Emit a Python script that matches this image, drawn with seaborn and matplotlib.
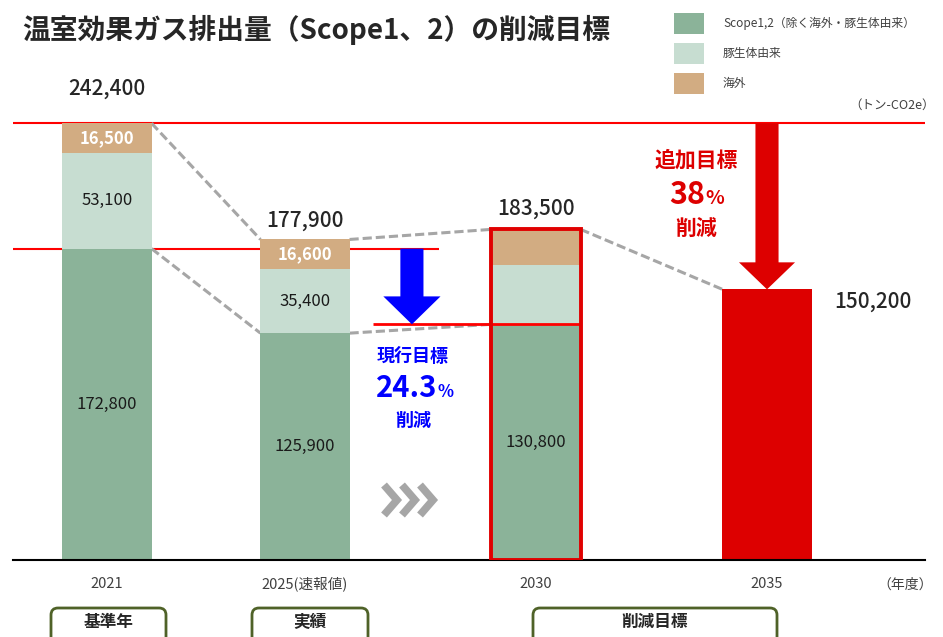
import matplotlib
matplotlib.use("Agg")
import matplotlib.pyplot as plt
import matplotlib.transforms as mtransforms
from matplotlib.patches import FancyArrow, Rectangle, FancyBboxPatch
from matplotlib.lines import Line2D
import pandas as pd
import seaborn as sns

# =========================
# DATA
# =========================
years = ["2021", "2025(速報値)", "2030", "2035"]
scope12 = [172800, 125900, 130800]      # Scope1,2（除く海外・豚生体由来）
pig = [53100, 35400, 32700]              # 豚生体由来
overseas = [16500, 16600, 20000]         # 海外
target_2035 = 150200
current_cut = "24.3"
extra_cut = "38"
box_labels = ["基準年", "実績", "削減目標"]
legend_labels = ["Scope1,2（除く海外・豚生体由来）", "豚生体由来", "海外"]

# layout (bar centres on a native x scale)
x_pos = [0, 0.9, 1.95, 3.0]

GREEN = "#8BB399"
LIGHT = "#C7DDD1"
TAN = "#D2AC82"
RED = "#DD0000"
RED_LINE = "#FF0000"
BLUE = "#0000FF"
GRAY = "#A6A6A6"
OLIVE = "#4F6228"

# =========================
# BUILD TABLE
# =========================
tot = [s + p + o for s, p, o in zip(scope12, pig, overseas)]
mid = [s + p for s, p in zip(scope12, pig)]

rows = []
for i in range(3):
    rows.append((x_pos[i], "海外", tot[i]))
    rows.append((x_pos[i], "豚生体由来", mid[i]))
    rows.append((x_pos[i], "Scope1,2", scope12[i]))
rows.append((x_pos[3], "2035", target_2035))
df = pd.DataFrame(rows, columns=["x", "layer", "top"])

palette = {"海外": TAN, "豚生体由来": LIGHT, "Scope1,2": GREEN, "2035": RED}

# =========================
# PLOT
# =========================
sns.set_style("white")
plt.rcParams['font.family'] = ['Noto Sans CJK JP', 'DejaVu Sans']

W, H = 943, 637
fig = plt.figure(figsize=(W / 100, H / 100), dpi=100)
ax = fig.add_axes([13 / W, 77 / H, 912 / W, 500 / H])
# image pixel coords (y from top)
PX = mtransforms.Affine2D().scale(1 / W, -1 / H).translate(0, 1) + fig.transFigure

sns.barplot(data=df, x="x", y="top", hue="layer",
            hue_order=["海外", "豚生体由来", "Scope1,2", "2035"],
            palette=palette, native_scale=True, dodge=False, width=0.45,
            errorbar=None, legend=False, saturation=1, linewidth=0,
            zorder=2, ax=ax)

ax.set_xlim(-94 / 220, 818 / 220)
ax.set_ylim(0, 277500)
bw = 0.45 * 0.9
h = bw / 2

# reference lines
ax.axhline(tot[0], color=RED_LINE, lw=1.5, zorder=1)
ax.hlines(scope12[0], -0.43, 1.51, color=RED_LINE, lw=1.5, zorder=1)
ax.hlines(scope12[2], 1.21, x_pos[2] + h, color=RED_LINE, lw=2, zorder=3)

# 2030 outline
ax.add_patch(Rectangle((x_pos[2] - h, 0), bw, tot[2], fill=False,
                       edgecolor="#E00000", lw=2.8, zorder=3))

# dashed connectors
dash = dict(color=GRAY, lw=2.2, linestyle=(0, (3, 1.3)), zorder=1.5)
ax.plot([x_pos[0] + h, x_pos[1] - h], [tot[0], tot[1]], **dash)
ax.plot([x_pos[0] + h, x_pos[1] - h], [scope12[0], scope12[1]], **dash)
ax.plot([x_pos[1] + h, x_pos[2] - h], [tot[1], tot[2]], **dash)
ax.plot([x_pos[1] + h, x_pos[2] - h], [scope12[1], scope12[2]], **dash)
ax.plot([x_pos[2] + h, x_pos[3] - h], [tot[2], target_2035], **dash)

# arrows
ax.add_patch(FancyArrow(1.386, scope12[0], 0, scope12[2] - scope12[0],
                        width=0.105, head_width=0.26, head_length=15500,
                        length_includes_head=True, color=BLUE, lw=0, zorder=4))
ax.add_patch(FancyArrow(x_pos[3], tot[0], 0, target_2035 - tot[0],
                        width=0.105, head_width=0.255, head_length=15000,
                        length_includes_head=True, color=RED, lw=0, zorder=4))

# segment labels
for i in range(3):
    ax.text(x_pos[i], scope12[i] / 2, f"{scope12[i]:,}", ha="center", va="center",
            fontsize=12, color="#1A1A1A", zorder=5)
    if i < 2:
        ax.text(x_pos[i], scope12[i] + pig[i] / 2, f"{pig[i]:,}", ha="center",
                va="center", fontsize=12, color="#1A1A1A", zorder=5)
        ax.text(x_pos[i], mid[i] + overseas[i] / 2, f"{overseas[i]:,}", ha="center",
                va="center", fontsize=12, color="white", fontweight="bold", zorder=5)

# totals
offs = [24.5, 13.5, 14.5]
for i in range(3):
    ax.annotate(f"{tot[i]:,}", (x_pos[i], tot[i]), xytext=(0, offs[i]),
                textcoords="offset points", ha="center", va="center",
                fontsize=15, fontweight="medium")
ax.annotate(f"{target_2035:,}", (x_pos[3] + h, target_2035), xytext=(16.5, -8.6),
            textcoords="offset points", ha="left", va="center",
            fontsize=15, fontweight="medium")

# axes style
ax.set_xticks(x_pos, years)
ax.tick_params(axis="x", length=0, pad=12, labelsize=10.5, labelcolor="#404040")
ax.set_yticks([])
ax.set_xlabel("")
ax.set_ylabel("")
for s in ["top", "left", "right"]:
    ax.spines[s].set_visible(False)
ax.spines["bottom"].set_color("black")
ax.spines["bottom"].set_linewidth(1.5)

# =========================
# TEXT / DECORATION
# =========================
fig.text(22, 30, "温室効果ガス排出量（Scope1、2）の削減目標", transform=PX,
         ha="left", va="center", fontsize=20, fontweight="bold")
fig.text(892, 105, "（トン-CO2e）", transform=PX, ha="center", va="center",
         fontsize=9, color="#404040")
fig.text(905, 585, "（年度）", transform=PX, ha="center", va="center",
         fontsize=10, color="#404040")

# legend
for j, (lab, col) in enumerate(zip(legend_labels, [GREEN, LIGHT, TAN])):
    fig.add_artist(Rectangle((674, 13 + 30 * j), 30, 21, transform=PX,
                             facecolor=col, edgecolor="none"))
    fig.text(723, 23.5 + 30 * j, lab, transform=PX, ha="left", va="center",
             fontsize=8.5, color="#404040")

# current target (blue)
fig.text(413, 357, "現行目標", transform=PX, ha="center", va="center",
         fontsize=13, fontweight="bold", color=BLUE)
fig.text(437, 397, current_cut, transform=PX, ha="right", va="baseline",
         fontsize=21, fontweight="bold", color=BLUE)
fig.text(437, 397, "%", transform=PX, ha="left", va="baseline",
         fontsize=12, fontweight="bold", color=BLUE)
fig.text(413, 420, "削減", transform=PX, ha="center", va="center",
         fontsize=13, fontweight="bold", color=BLUE)

# additional target (red)
fig.text(696, 160, "追加目標", transform=PX, ha="center", va="center",
         fontsize=15, fontweight="bold", color=RED)
fig.text(705, 204, extra_cut, transform=PX, ha="right", va="baseline",
         fontsize=22, fontweight="bold", color=RED)
fig.text(705, 204, "%", transform=PX, ha="left", va="baseline",
         fontsize=14, fontweight="bold", color=RED)
fig.text(696, 228, "削減", transform=PX, ha="center", va="center",
         fontsize=15, fontweight="bold", color=RED)

# chevrons
for x0 in [384, 402, 420]:
    fig.add_artist(Line2D([x0, x0 + 13, x0], [485, 500, 515], transform=PX,
                          color=GRAY, lw=5.5, solid_joinstyle="miter",
                          solid_capstyle="butt"))

# bottom boxes
for lab, (bx, bwid) in zip(box_labels, [(51, 115), (252, 116), (533, 244)]):
    fig.add_artist(FancyBboxPatch((bx, 608), bwid, 50, transform=PX,
                                  boxstyle="round,pad=0,rounding_size=7",
                                  facecolor="white", edgecolor=OLIVE, lw=2))
    fig.text(bx + bwid / 2, 622, lab, transform=PX, ha="center", va="center",
             fontsize=12, fontweight="bold")

fig.savefig("out.png", dpi=100)
